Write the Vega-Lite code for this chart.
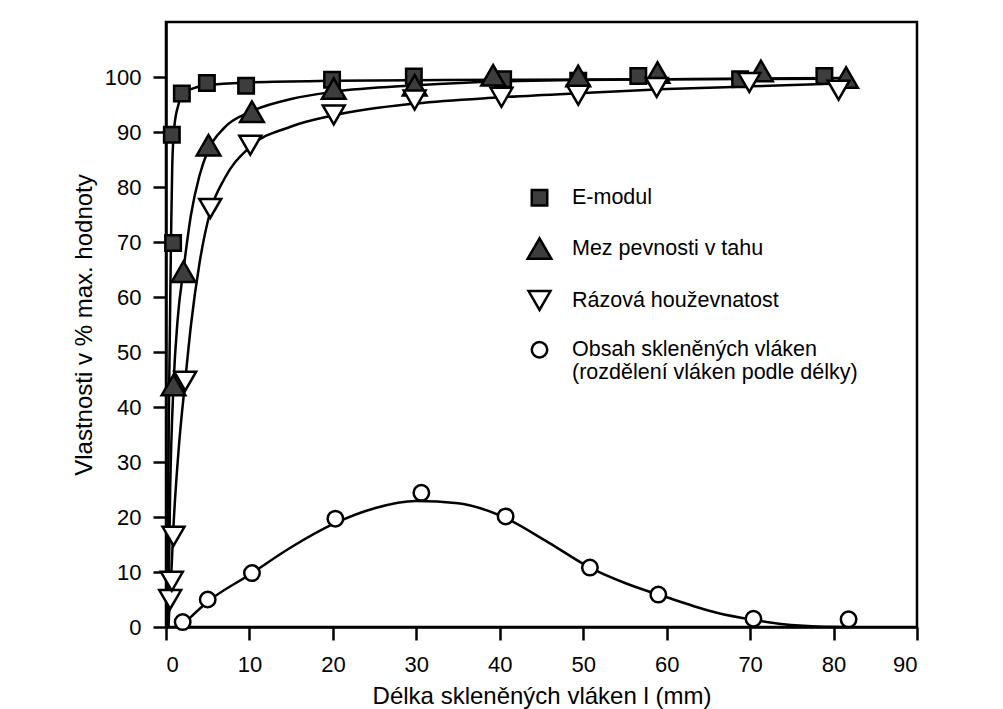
{
  "$schema": "https://vega.github.io/schema/vega-lite/v6.json",
  "width": 751,
  "height": 605,
  "autosize": {"type": "none"},
  "padding": {"left": 166, "top": 22, "right": 86, "bottom": 82},
  "background": "white",
  "config": {
    "font": "Liberation Sans",
    "view": {"stroke": "black", "strokeWidth": 2.5},
    "axis": {
      "domainColor": "black", "domainWidth": 2.5,
      "tickColor": "black", "tickWidth": 2.5, "tickSize": 13,
      "labelColor": "black", "labelFont": "Liberation Sans", "labelFontSize": 22,
      "titleColor": "black", "titleFont": "Liberation Sans", "titleFontSize": 24, "titleFontWeight": "normal",
      "grid": false
    },
    "legend": {
      "title": null, "orient": "none", "legendX": 360, "legendY": 165,
      "labelFont": "Liberation Sans", "labelFontSize": 21.5, "labelColor": "black",
      "labelOffset": 19, "rowPadding": 22, "padding": 0,
      "symbolStrokeWidth": 2.5,
      "labelLimit": 500
    }
  },
  "datasets": {
    "curves": [
      {"series": "E-modul", "x": 0.15, "y": 0},
      {"series": "E-modul", "x": 0.35, "y": 40},
      {"series": "E-modul", "x": 0.6, "y": 70},
      {"series": "E-modul", "x": 0.75, "y": 84},
      {"series": "E-modul", "x": 1.0, "y": 91},
      {"series": "E-modul", "x": 1.5, "y": 95},
      {"series": "E-modul", "x": 2, "y": 96.8},
      {"series": "E-modul", "x": 3, "y": 97.8},
      {"series": "E-modul", "x": 5, "y": 98.5},
      {"series": "E-modul", "x": 10, "y": 99},
      {"series": "E-modul", "x": 20, "y": 99.3},
      {"series": "E-modul", "x": 30, "y": 99.4},
      {"series": "E-modul", "x": 40, "y": 99.5},
      {"series": "E-modul", "x": 60, "y": 99.6},
      {"series": "E-modul", "x": 80, "y": 99.7},
      {"series": "Mez pevnosti v tahu", "x": 0.25, "y": 0},
      {"series": "Mez pevnosti v tahu", "x": 0.5, "y": 25},
      {"series": "Mez pevnosti v tahu", "x": 0.9, "y": 44},
      {"series": "Mez pevnosti v tahu", "x": 1.4, "y": 56},
      {"series": "Mez pevnosti v tahu", "x": 2.1, "y": 65},
      {"series": "Mez pevnosti v tahu", "x": 3, "y": 75},
      {"series": "Mez pevnosti v tahu", "x": 4, "y": 82},
      {"series": "Mez pevnosti v tahu", "x": 5, "y": 86.5},
      {"series": "Mez pevnosti v tahu", "x": 7, "y": 90.8},
      {"series": "Mez pevnosti v tahu", "x": 10, "y": 93.6},
      {"series": "Mez pevnosti v tahu", "x": 15, "y": 96.0},
      {"series": "Mez pevnosti v tahu", "x": 20, "y": 97.3},
      {"series": "Mez pevnosti v tahu", "x": 30, "y": 98.5},
      {"series": "Mez pevnosti v tahu", "x": 40, "y": 99.2},
      {"series": "Mez pevnosti v tahu", "x": 60, "y": 99.6},
      {"series": "Mez pevnosti v tahu", "x": 81.5, "y": 99.8},
      {"series": "Rázová houževnatost", "x": 0.3, "y": 0},
      {"series": "Rázová houževnatost", "x": 0.45, "y": 5},
      {"series": "Rázová houževnatost", "x": 0.6, "y": 8.5},
      {"series": "Rázová houževnatost", "x": 0.85, "y": 17},
      {"series": "Rázová houževnatost", "x": 1.5, "y": 32},
      {"series": "Rázová houževnatost", "x": 2.3, "y": 44.7},
      {"series": "Rázová houževnatost", "x": 3, "y": 55},
      {"series": "Rázová houževnatost", "x": 4, "y": 66},
      {"series": "Rázová houževnatost", "x": 5.3, "y": 75.5},
      {"series": "Rázová houževnatost", "x": 7, "y": 81.5},
      {"series": "Rázová houževnatost", "x": 10, "y": 87.2},
      {"series": "Rázová houževnatost", "x": 15, "y": 91.0},
      {"series": "Rázová houževnatost", "x": 20, "y": 93.0},
      {"series": "Rázová houževnatost", "x": 30, "y": 95.2},
      {"series": "Rázová houževnatost", "x": 40, "y": 96.3},
      {"series": "Rázová houževnatost", "x": 50, "y": 97.1},
      {"series": "Rázová houževnatost", "x": 60, "y": 97.8},
      {"series": "Rázová houževnatost", "x": 70, "y": 98.3},
      {"series": "Rázová houževnatost", "x": 80.6, "y": 98.8},
      {"series": "Obsah skleněných vláken", "x": 2, "y": 0.4},
      {"series": "Obsah skleněných vláken", "x": 5, "y": 4.6},
      {"series": "Obsah skleněných vláken", "x": 10, "y": 9.5},
      {"series": "Obsah skleněných vláken", "x": 15, "y": 14.5},
      {"series": "Obsah skleněných vláken", "x": 20, "y": 18.7},
      {"series": "Obsah skleněných vláken", "x": 25, "y": 21.6},
      {"series": "Obsah skleněných vláken", "x": 30, "y": 22.9},
      {"series": "Obsah skleněných vláken", "x": 35, "y": 22.5},
      {"series": "Obsah skleněných vláken", "x": 40, "y": 20.3},
      {"series": "Obsah skleněných vláken", "x": 45.8, "y": 15.4},
      {"series": "Obsah skleněných vláken", "x": 50.8, "y": 10.8},
      {"series": "Obsah skleněných vláken", "x": 55, "y": 8.0},
      {"series": "Obsah skleněných vláken", "x": 60, "y": 5.4},
      {"series": "Obsah skleněných vláken", "x": 66, "y": 2.6},
      {"series": "Obsah skleněných vláken", "x": 70.4, "y": 1.3},
      {"series": "Obsah skleněných vláken", "x": 74, "y": 0.5},
      {"series": "Obsah skleněných vláken", "x": 78, "y": 0.1},
      {"series": "Obsah skleněných vláken", "x": 82, "y": 0}
    ],
    "points": [
      {"series": "E-modul", "x": 0.7, "y": 89.5},
      {"series": "E-modul", "x": 0.85, "y": 69.8},
      {"series": "E-modul", "x": 1.9, "y": 97.0},
      {"series": "E-modul", "x": 4.9, "y": 98.9},
      {"series": "E-modul", "x": 9.6, "y": 98.4},
      {"series": "E-modul", "x": 19.9, "y": 99.5},
      {"series": "E-modul", "x": 29.7, "y": 100.1},
      {"series": "E-modul", "x": 40.4, "y": 99.6},
      {"series": "E-modul", "x": 49.4, "y": 99.3},
      {"series": "E-modul", "x": 56.6, "y": 100.2},
      {"series": "E-modul", "x": 68.8, "y": 99.6},
      {"series": "E-modul", "x": 78.9, "y": 100.2},
      {"series": "Mez pevnosti v tahu", "x": 0.9, "y": 44},
      {"series": "Mez pevnosti v tahu", "x": 2.1, "y": 64.6},
      {"series": "Mez pevnosti v tahu", "x": 5.1, "y": 87.6},
      {"series": "Mez pevnosti v tahu", "x": 10.3, "y": 93.7},
      {"series": "Mez pevnosti v tahu", "x": 20.1, "y": 97.9},
      {"series": "Mez pevnosti v tahu", "x": 29.8, "y": 98.5},
      {"series": "Mez pevnosti v tahu", "x": 39.2, "y": 100.3},
      {"series": "Mez pevnosti v tahu", "x": 49.4, "y": 100.2},
      {"series": "Mez pevnosti v tahu", "x": 58.9, "y": 100.8},
      {"series": "Mez pevnosti v tahu", "x": 71.3, "y": 101.1},
      {"series": "Mez pevnosti v tahu", "x": 81.5, "y": 99.9},
      {"series": "Rázová houževnatost", "x": 0.5, "y": 5.0},
      {"series": "Rázová houževnatost", "x": 0.7, "y": 8.3},
      {"series": "Rázová houževnatost", "x": 0.9, "y": 16.5},
      {"series": "Rázová houževnatost", "x": 2.3, "y": 44.7},
      {"series": "Rázová houževnatost", "x": 5.3, "y": 76.1},
      {"series": "Rázová houževnatost", "x": 10.1, "y": 87.6},
      {"series": "Rázová houževnatost", "x": 20.1, "y": 93.1},
      {"series": "Rázová houževnatost", "x": 29.8, "y": 95.8},
      {"series": "Rázová houževnatost", "x": 40.2, "y": 96.3},
      {"series": "Rázová houževnatost", "x": 49.4, "y": 96.7},
      {"series": "Rázová houževnatost", "x": 58.8, "y": 98.1},
      {"series": "Rázová houževnatost", "x": 69.9, "y": 99.0},
      {"series": "Rázová houževnatost", "x": 80.6, "y": 97.6},
      {"series": "Obsah skleněných vláken", "x": 2.0, "y": 0.9},
      {"series": "Obsah skleněných vláken", "x": 5.0, "y": 5.0},
      {"series": "Obsah skleněných vláken", "x": 10.3, "y": 9.8},
      {"series": "Obsah skleněných vláken", "x": 20.3, "y": 19.7},
      {"series": "Obsah skleněných vláken", "x": 30.6, "y": 24.4},
      {"series": "Obsah skleněných vláken", "x": 40.7, "y": 20.1},
      {"series": "Obsah skleněných vláken", "x": 50.8, "y": 10.8},
      {"series": "Obsah skleněných vláken", "x": 59.0, "y": 5.9},
      {"series": "Obsah skleněných vláken", "x": 70.4, "y": 1.5},
      {"series": "Obsah skleněných vláken", "x": 81.8, "y": 1.4}
    ]
  },
  "encoding": {
    "x": {
      "field": "x", "type": "quantitative",
      "scale": {"domain": [0, 90], "nice": false, "zero": false},
      "axis": {"values": [0, 10, 20, 30, 40, 50, 60, 70, 80, 90], "labelPadding": 14, "titlePadding": 9, "title": "Délka skleněných vláken l (mm)"}
    },
    "y": {
      "field": "y", "type": "quantitative",
      "scale": {"domain": [0, 110], "nice": false, "zero": false},
      "axis": {"values": [0, 10, 20, 30, 40, 50, 60, 70, 80, 90, 100], "labelPadding": 12, "titlePadding": 8, "title": "Vlastnosti v % max. hodnoty"}
    }
  },
  "layer": [
    {
      "data": {"name": "curves"},
      "mark": {"type": "line", "interpolate": "monotone", "stroke": "black", "strokeWidth": 2.5},
      "encoding": {"detail": {"field": "series", "type": "nominal"}}
    },
    {
      "data": {"name": "points"},
      "mark": {"type": "point", "filled": false, "strokeWidth": 2.5, "opacity": 1},
      "encoding": {
        "shape": {
          "field": "series", "type": "nominal",
          "scale": {"domain": ["E-modul", "Mez pevnosti v tahu", "Rázová houževnatost", "Obsah skleněných vláken"], "range": ["square", "triangle-up", "triangle-down", "circle"]},
          "legend": {
            "labelExpr": "datum.value == 'Obsah skleněných vláken' ? ['Obsah skleněných vláken', '(rozdělení vláken podle délky)'] : datum.label",
            "encode": {"labels": {"update": {"lineHeight": {"value": 21}}}}
          }
        },
        "fill": {
          "field": "series", "type": "nominal",
          "scale": {"domain": ["E-modul", "Mez pevnosti v tahu", "Rázová houževnatost", "Obsah skleněných vláken"], "range": ["#3d3d3d", "#3d3d3d", "white", "white"]},
          "legend": {
            "labelExpr": "datum.value == 'Obsah skleněných vláken' ? ['Obsah skleněných vláken', '(rozdělení vláken podle délky)'] : datum.label",
            "encode": {"labels": {"update": {"lineHeight": {"value": 21}}}}
          }
        },
        "stroke": {
          "field": "series", "type": "nominal",
          "scale": {"domain": ["E-modul", "Mez pevnosti v tahu", "Rázová houževnatost", "Obsah skleněných vláken"], "range": ["black", "black", "black", "black"]},
          "legend": {
            "labelExpr": "datum.value == 'Obsah skleněných vláken' ? ['Obsah skleněných vláken', '(rozdělení vláken podle délky)'] : datum.label",
            "encode": {"labels": {"update": {"lineHeight": {"value": 21}}}}
          }
        },
        "size": {
          "field": "series", "type": "nominal",
          "scale": {"type": "ordinal", "domain": ["E-modul", "Mez pevnosti v tahu", "Rázová houževnatost", "Obsah skleněných vláken"], "range": [240, 560, 480, 240]},
          "legend": {
            "labelExpr": "datum.value == 'Obsah skleněných vláken' ? ['Obsah skleněných vláken', '(rozdělení vláken podle délky)'] : datum.label",
            "encode": {"labels": {"update": {"lineHeight": {"value": 21}}}}
          }
        }
      }
    }
  ]
}
